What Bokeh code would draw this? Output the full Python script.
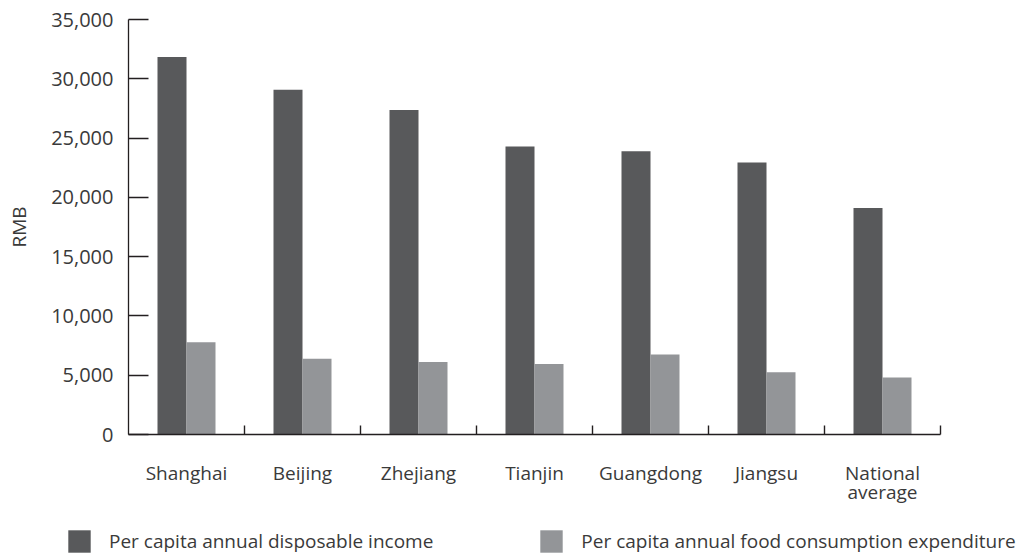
from bokeh.plotting import figure
from bokeh.models import (Range1d, FixedTicker, LinearAxis,
                          NumeralTickFormatter, Legend, LegendItem, ColumnDataSource)
from bokeh.transform import dodge
from bokeh.embed import file_html
from bokeh.resources import INLINE

# ---- data ----
regions = ["Shanghai", "Beijing", "Zhejiang", "Tianjin", "Guangdong", "Jiangsu", "National average"]
label_line1 = ["Shanghai", "Beijing", "Zhejiang", "Tianjin", "Guangdong", "Jiangsu", "National"]
label_line2 = ["", "", "", "", "", "", "average"]
income = [31838, 29073, 27359, 24293, 23898, 22944, 19109]
food = [7777, 6393, 6118, 5940, 6746, 5244, 4805]
y_ticks = [0, 5000, 10000, 15000, 20000, 25000, 30000, 35000]
series_names = ["Per capita annual disposable income",
                "Per capita annual food consumption expenditure"]
y_label = "RMB"

# ---- style ----
DARK = "#58595b"
LIGHT = "#939598"
INK = "#231f20"
TXT = "#3a3a3a"
FONT = "Open Sans"

W, H = 1029, 555
PLOT_L, PLOT_R, PLOT_T, PLOT_B = 128, 940, 19, 434   # canvas px of the axes box

n = len(regions)
centers = [i + 0.5 for i in range(n)]
bounds_ticks = [i + 1 for i in range(n)]

px_x = (PLOT_R - PLOT_L) / n
px_y = (PLOT_B - PLOT_T) / y_ticks[-1]
x_range = Range1d(-PLOT_L / px_x, n + (W - PLOT_R) / px_x)
y_range = Range1d(-(H - PLOT_B) / px_y, y_ticks[-1] + PLOT_T / px_y)

src = ColumnDataSource(dict(pos=centers, region=regions, income=income, food=food))

p = figure(x_range=x_range, y_range=y_range, width=W, height=H,
           output_backend="svg", toolbar_location=None,
           min_border=0, min_border_left=0, min_border_right=0,
           min_border_top=0, min_border_bottom=0)
p.outline_line_color = None
p.grid.grid_line_color = None
p.background_fill_color = "white"
p.border_fill_color = "white"

r1 = p.vbar(x=dodge("pos", -0.125), top="income", width=0.25,
            source=src, fill_color=DARK, line_color=None)
r2 = p.vbar(x=dodge("pos", 0.125), top="food", width=0.25,
            source=src, fill_color=LIGHT, line_color=None)

# y axis
ya = p.yaxis[0]
ya.fixed_location = 0
ya.bounds = (0, y_ticks[-1])
ya.ticker = FixedTicker(ticks=y_ticks)
ya.formatter = NumeralTickFormatter(format="0,0")
ya.major_tick_in = 20
ya.major_tick_out = 0
ya.minor_tick_line_color = None
ya.axis_line_color = INK
ya.axis_line_width = 1.3
ya.major_tick_line_color = INK
ya.major_tick_line_width = 1.3
ya.major_label_text_font = FONT
ya.major_label_text_font_size = "20px"
ya.major_label_text_color = TXT
ya.major_label_standoff = 15
ya.axis_label = y_label
ya.axis_label_text_font = FONT
ya.axis_label_text_font_size = "19px"
ya.axis_label_text_font_style = "normal"
ya.axis_label_text_color = TXT
ya.axis_label_standoff = 16

# x axis: separators (minor ticks) + first line of category labels
xa = p.xaxis[0]
xa.fixed_location = 0
xa.bounds = (0, n)
xa.ticker = FixedTicker(ticks=centers, minor_ticks=bounds_ticks)
xa.axis_line_color = INK
xa.axis_line_width = 1.3
xa.major_tick_line_color = None
xa.major_tick_out = 0
xa.major_tick_in = 0
xa.minor_tick_line_color = INK
xa.minor_tick_line_width = 1.4
xa.minor_tick_in = 9
xa.minor_tick_out = 0
xa.major_label_standoff = 25
xa.major_label_text_font = FONT
xa.major_label_text_font_size = "19px"
xa.major_label_text_color = TXT
xa.major_label_overrides = dict(zip(centers, label_line1))

# second line of category labels
xb = LinearAxis(fixed_location=0, bounds=(0, n),
                ticker=FixedTicker(ticks=centers),
                axis_line_color=None, major_tick_line_color=None,
                major_tick_out=0, major_tick_in=0, minor_tick_line_color=None,
                major_label_standoff=44,
                major_label_text_font=FONT, major_label_text_font_size="19px",
                major_label_text_color=TXT,
                major_label_overrides=dict(zip(centers, label_line2)))
p.add_layout(xb, "below")

legend = Legend(items=[LegendItem(label=series_names[0], renderers=[r1]),
                       LegendItem(label=series_names[1], renderers=[r2])],
                orientation="horizontal", location=(65, 0),
                glyph_width=28, glyph_height=28, label_height=28,
                label_standoff=16, spacing=104,
                padding=0, margin=0, border_line_color=None, background_fill_alpha=0,
                label_text_font=FONT, label_text_font_size="19px", label_text_color=TXT)
p.add_layout(legend)

open("out.html", "w").write(file_html(p, INLINE))
